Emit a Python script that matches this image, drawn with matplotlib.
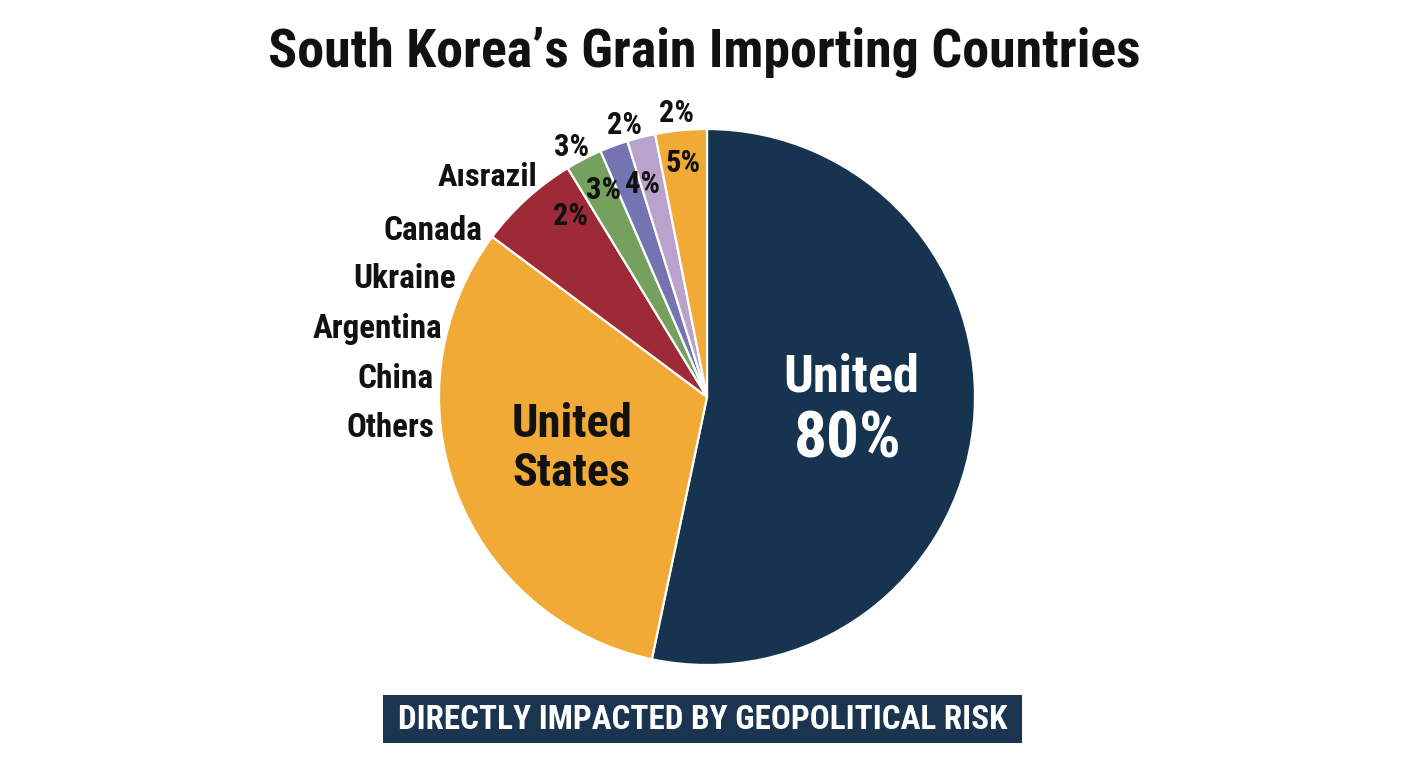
import matplotlib
matplotlib.use("Agg")
import matplotlib.pyplot as plt
from matplotlib import font_manager
from matplotlib.patches import Rectangle

# the reference uses a condensed bold face; take the narrowest one installed
installed = {f.name for f in font_manager.fontManager.ttflist}
for cand in ['Roboto Condensed', 'Liberation Sans Narrow', 'DejaVu Sans Condensed', 'Roboto']:
    if cand in installed:
        main_font = cand
        break
else:
    main_font = 'DejaVu Sans'
plt.rcParams['font.family'] = [main_font, 'DejaVu Sans']
plt.rcParams['font.weight'] = 'bold'
plt.rcParams['font.stretch'] = 'condensed'

# share of each slice (clockwise from 12 o'clock)
shares = [53.3, 31.9, 6.1, 2.2, 1.7, 1.7, 3.1]
colors = ['#163450', '#f0aa35', '#9e2a38', '#76a05e', '#7474b3', '#b9a3cc', '#f0aa35']

# text written on the chart (as printed in the reference)
title = "South Korea\u2019s Grain Importing Countries"
side_names = ['A\u0131srazil', 'Canada', 'Ukraine', 'Argentina', 'China', 'Others']
small_pcts = ['3%', '2%', '2%', '3%', '4%', '5%', '2%']
banner = "DIRECTLY IMPACTED BY GEOPOLITICAL RISK"

W, H = 1408, 768
fig = plt.figure(figsize=(W / 100, H / 100), dpi=100)
ax = fig.add_axes([0, 0, 1, 1])
ax.axis('off')

def Y(y):
    # pixel row from the top -> axes y
    return H - y

ax.pie(shares, colors=colors, startangle=90, counterclock=False,
       center=(707, Y(397)), radius=268,
       wedgeprops=dict(edgecolor='white', linewidth=1.6))
ax.set_xlim(0, W)
ax.set_ylim(0, H)
ax.set_aspect('equal')

renderer = fig.canvas.get_renderer()

def fit_text(x, y, s, size, width, **kw):
    # place text, then shrink it if it comes out wider than in the reference
    t = ax.text(x, Y(y), s, fontsize=size, va='center', **kw)
    w = t.get_window_extent(renderer).width
    if w > width:
        t.set_fontsize(size * width / w)
    return t

fit_text(704, 52, title, 40, 872, ha='center', color='#111111')

# names down the left side: right edge x, centre y, reference width
name_pos = [(537, 177, 100), (482, 231, 99), (456, 279, 103),
            (442, 329, 130), (434, 379, 77), (434, 428, 88)]
for name, (x, y, w) in zip(side_names, name_pos):
    fit_text(x, y, name, 24, w, ha='right', color='#111111')

# small percentage labels around the top
pct_pos = [(572, 147), (624, 125), (676, 113), (604, 190), (642, 184), (683, 163), (570, 216)]
for lab, (x, y) in zip(small_pcts, pct_pos):
    fit_text(x, y, lab, 22, 37, ha='center', color='#111111')

fit_text(851, 378, "United", 40, 136, ha='center', color='white')
fit_text(848, 440, "80%", 47, 113, ha='center', color='white')
fit_text(572, 424, "United", 35, 121, ha='center', color='#111111')
fit_text(571, 473, "States", 35, 118, ha='center', color='#111111')

ax.add_patch(Rectangle((383, Y(743)), 639, 48, facecolor='#1b3550', edgecolor='none'))
fit_text(703, 720, banner, 25, 610, ha='center', color='white')

fig.savefig('out.png', dpi=100, facecolor='white')
